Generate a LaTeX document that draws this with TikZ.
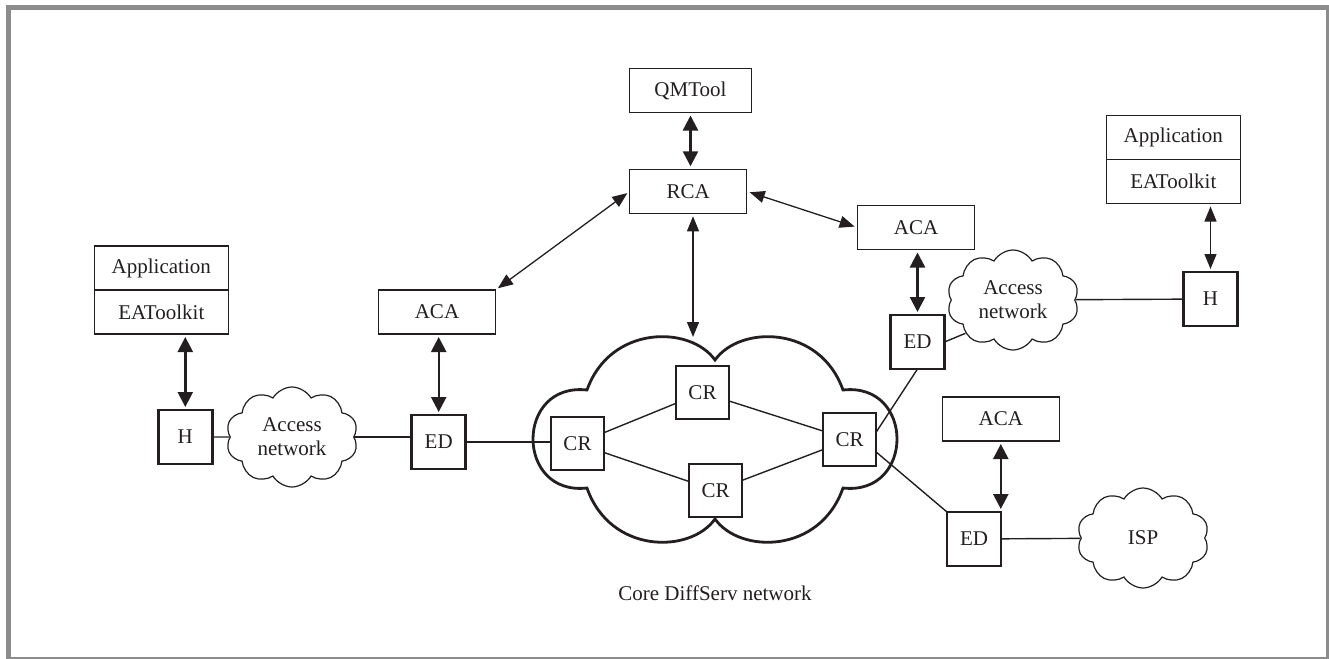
\documentclass[tikz,border=0pt]{standalone}
\usepackage{fontspec}
\setmainfont{Liberation Serif}
\usepackage{tikz}
\definecolor{frameGray}{HTML}{8C8C8C}
\definecolor{inkGray}{HTML}{231F20}
\usetikzlibrary{arrows.meta}
\usetikzlibrary{positioning}
\usetikzlibrary{shapes.symbols}

\tikzset{
  box/.style={draw=inkGray, line width=0.55pt, minimum width=58.5pt, minimum height=22pt,
    inner sep=0pt, outer sep=0pt, text=inkGray},
  dev/.style={draw=inkGray, line width=1.3pt, minimum size=27pt, inner sep=0pt,
    outer sep=0pt, text=inkGray},
  net/.style={cloud, draw=inkGray, line width=0.6pt, cloud puffs=10, cloud puff arc=120,
    aspect=1.33, minimum width=66pt, minimum height=50pt, inner sep=0pt, align=center,
    text=inkGray},
  link/.style={draw=inkGray, line width=0.7pt},
  ctl/.style={draw=inkGray, line width=0.65pt,
    {Triangle[length=7.5pt,width=6pt]}-{Triangle[length=7.5pt,width=6pt]},
    shorten <=1.5pt, shorten >=1.5pt},
  ctlthick/.style={ctl, line width=1.2pt,
    {Triangle[length=7.5pt,width=7.5pt]}-{Triangle[length=7.5pt,width=7.5pt]}}
}

\begin{document}
\begin{tikzpicture}[x=0.5pt, y=-0.5pt, font=\fontsize{10.5}{12}\selectfont]
    \useasboundingbox (0,0) rectangle (1329,659);
    \draw[frameGray, line width=2.5pt] (8.5,7.5) rectangle (1328.5,659.5);

    % core network
    \draw[inkGray, line width=1.4pt] (715,360) .. controls (740,325) and (820,325) .. (843,390)
        .. controls (915,382) and (915,496) .. (843,488)
        .. controls (820,554) and (740,554) .. (715,519)
        .. controls (690,554) and (610,554) .. (587,488)
        .. controls (515,496) and (515,382) .. (587,390)
        .. controls (610,325) and (690,325) .. cycle;
    \coordinate (coretop) at (693,340);
    \node[text=inkGray] (corelbl) at (715,593) {Core DiffServ network};

    % control boxes
    \node[box, minimum width=61pt] (qm)   at ( 690.5,  90.5) {QMTool};
    \node[box]                     (rca)  at ( 688.3, 191.3) {RCA};
    \node[box]                     (acaL) at ( 437  , 312  ) {ACA};
    \node[box]                     (acaR) at ( 916  , 227.5) {ACA};
    \node[box]                     (acaS) at (1000.8, 419  ) {ACA};

    \node[box, minimum width=67pt] (appL) at ( 161.3, 268  ) {Application};
    \node[box, minimum width=67pt, below=0pt of appL] (eatL) {EAToolkit};
    \node[box, minimum width=67pt] (appR) at (1173.3, 137.5) {Application};
    \node[box, minimum width=67pt, below=0pt of appR] (eatR) {EAToolkit};

    % devices
    \node[dev] (hL)  at ( 185.3, 437) {H};
    \node[dev] (edL) at ( 438.7, 442) {ED};
    \node[dev] (edR) at ( 917.5, 342) {ED};
    \node[dev] (hR)  at (1210.5, 299) {H};
    \node[dev] (edS) at ( 974  , 539) {ED};

    \node[dev, minimum size=26.5pt] (cr1) at (577.5, 443.5) {CR};
    \node[dev, minimum size=26.5pt] (cr2) at (702.5, 392.5) {CR};
    \node[dev, minimum size=26.5pt] (cr3) at (715.5, 490.5) {CR};
    \node[dev, minimum size=26.5pt] (cr4) at (849.5, 439.5) {CR};

    \node[net] (accL) at ( 292, 437) {Access\\network};
    \node[net] (accR) at (1013, 300) {Access\\network};
    \node[net] (isp)  at (1143, 538) {ISP};

    % data links
    \draw[link] (hL) -- (accL);
    \draw[link] (accL.east) -- (accL.east -| edL.west);
    \draw[link] (edL.east) -- (edL.east -| cr1.west);
    \draw[link] (cr1) -- (cr2);
    \draw[link] (cr1) -- (cr3);
    \draw[link] (cr2) -- (cr4);
    \draw[link] (cr3) -- (cr4);
    \draw[link] (cr4.15) -- (edR.south);
    \draw[link] (edR.east) -- (accR.215);
    \draw[link] (accR) -- (hR);
    \draw[link] (cr4.-25) -- (edS.north west);
    \draw[link] (edS) -- (isp);

    % signalling
    \draw[ctlthick] (qm.south) -- (qm.south |- rca.north);
    \draw[ctl]      (rca.west) -- (acaL.north east);
    \draw[ctl]      (rca.east) -- (acaR.west);
    \draw[ctl]      (rca.south -| coretop) -- (coretop);
    \draw[ctlthick] (hL.north |- eatL.south) -- (hL.north);
    \draw[ctlthick] (edL.north |- acaL.south) -- (edL.north);
    \draw[ctlthick] (edR.north |- acaR.south) -- (edR.north);
    \draw[ctl]      (hR.north |- eatR.south) -- (hR.north);
    \draw[ctlthick] (acaS.south) -- (acaS.south |- edS.north);
\end{tikzpicture}
\end{document}
